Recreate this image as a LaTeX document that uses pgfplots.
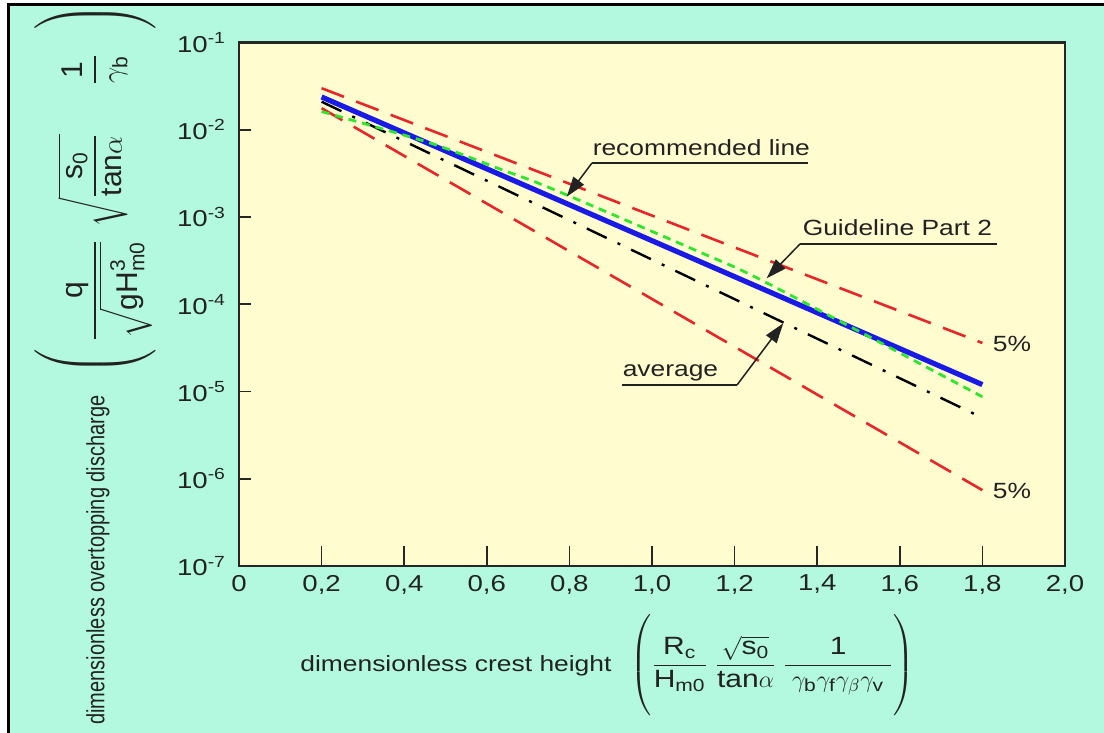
\documentclass[border=0pt]{standalone}
\usepackage{amsmath}
\usepackage{fontspec}
\setmainfont{Liberation Sans}
\newfontfamily\wide{Liberation Sans}[FakeStretch=1.2]
\usepackage{pgfplots}
\pgfplotsset{compat=1.18}
\usetikzlibrary{arrows.meta}
\definecolor{bgaqua}{HTML}{B3F9E0}
\definecolor{plotbg}{HTML}{FFFCD0}
\definecolor{cred}{HTML}{E8262A}
\definecolor{cblue}{HTML}{1A1AE6}
\definecolor{cgreen}{HTML}{2EE62E}
\definecolor{ink}{HTML}{222222}
\newcommand\w[1]{\text{\wide #1}}
\newcommand\n[1]{\text{#1}}
\begin{document}
\begin{tikzpicture}[x=0.5pt,y=0.5pt]
\useasboundingbox (0,0) rectangle (1104,733);
\fill[white] (0,0) rectangle (1104,733);
\fill[bgaqua] (8,0) rectangle (1104,728);
\draw[line width=1.5pt] (8,0) -- (8,728.3) -- (1104,728.3);
\begin{axis}[
  at={(119.5pt,83.5pt)}, anchor=south west,
  scale only axis, width=413pt, height=261.7pt,
  xmin=0, xmax=2, ymode=log, ymin=1e-7, ymax=1e-1,
  axis background/.style={fill=plotbg},
  axis line style={line width=1.2pt, black!85},
  tick align=inside, xtick pos=left, ytick pos=left,
  xtick={0,0.2,0.4,0.6,0.8,1.0,1.2,1.4,1.6,1.8,2.0},
  xticklabels={0,{0,2},{0,4},{0,6},{0,8},{1,0},{1,2},{1,4},{1,6},{1,8},{2,0}},
  ytick={1e-7,1e-6,1e-5,1e-4,1e-3,1e-2,1e-1},
  yticklabels={10\textsuperscript{-7},10\textsuperscript{-6},10\textsuperscript{-5},10\textsuperscript{-4},10\textsuperscript{-3},10\textsuperscript{-2},10\textsuperscript{-1}},
  yminorticks=false, minor tick num=0,
  x tick style={black!85, line width=0.8pt, /pgfplots/major tick length=10pt},
  y tick style={black!85, line width=0.8pt, /pgfplots/major tick length=6pt},
  ticklabel style={font=\wide\fontsize{11.5}{13}\selectfont, text=ink},
  yticklabel style={xshift=-3pt},
  xticklabel style={yshift=-1pt},
  clip=false,
]
\addplot[cred, line width=1.3pt, dash pattern=on 12pt off 6.5pt] coordinates {(0.2,0.0300) (1.0,1.04e-3) (1.8,3.6e-5)};
\addplot[cred, line width=1.3pt, dash pattern=on 12pt off 6.5pt] coordinates {(0.2,0.0177) (1.0,1.15e-4) (1.8,7.4e-7)};
\addplot[black, line width=1.2pt, dash pattern=on 11pt off 6pt on 1.5pt off 6pt] coordinates {(0.2,0.0210) (1.0,3.25e-4) (1.8,5.0e-6)};
\addplot[cblue, line width=2.6pt] coordinates {(0.2,0.0238) (1.0,5.36e-4) (1.8,1.2e-5)};
\addplot[cgreen, line width=1.4pt, dash pattern=on 4pt off 3pt, smooth] coordinates {(0.2,0.0162) (0.462,0.00708) (0.632,0.00355) (0.755,0.00214) (1.115,3.98e-4) (1.28,1.74e-4) (1.8,8.7e-6)};
\end{axis}
% annotations
\begin{scope}[line width=0.75pt, ink, font=\wide\fontsize{11}{13}\selectfont]
\node[anchor=base west, inner sep=0pt] at (592,577) {recommended line};
\draw (808,570) -- (592,570);
\draw[-{Triangle[length=10pt,width=6.5pt]}] (592,570) -- (566.7,536.3);
\node[anchor=base west, inner sep=0pt] at (802,497) {Guideline Part 2};
\draw (997,489) -- (800,489);
\draw[-{Triangle[length=10pt,width=6.5pt]}] (800,489) -- (766.7,454.7);
\node[anchor=base west, inner sep=0pt] at (622,356) {average};
\draw (622,348) -- (737,348);
\draw[-{Triangle[length=10pt,width=6.5pt]}] (737,348) -- (783.3,409.7);
\node at (1012,389) {5\%};
\node at (1012,242) {5\%};
\end{scope}
% x label
\node[anchor=base west, inner sep=0pt, text=ink, font=\fontsize{11}{13}\selectfont] at (300,61)
 {\wide dimensionless crest height};
\node[anchor=west, inner sep=0pt, text=ink, font=\fontsize{12.5}{14}\selectfont] at (630,68)
 {$\left(\rule[-22pt]{0pt}{50pt}\dfrac{\w{R}_{\w{c}}}{\w{H}_{\w{m0}}}\;\dfrac{\sqrt{\w{s}_{\w{0}}}}{\w{tan}\alpha}\;\dfrac{\w{1}}{\;\gamma_{\w{b}}\gamma_{\w{f}}\gamma_{\beta}\gamma_{\w{v}}\;}\right)$};
% y label
\node[rotate=90, yscale=1.25, anchor=west, inner sep=0pt, text=ink, font=\fontsize{10}{12}\selectfont] at (98,8)
 {dimensionless overtopping discharge};
\node[rotate=90, anchor=west, inner sep=0pt, text=ink, font=\fontsize{15}{17}\selectfont] at (95,358)
 {$\left(\rule[-19pt]{0pt}{43pt}\;\dfrac{\n{q}}{\sqrt{\n{gH}^{\n{3}}_{\n{m0}}}}\hspace{6pt}\sqrt{\dfrac{\n{s}_{\n{0}}}{\n{tan}\alpha}}\hspace{24pt}\dfrac{\n{1}}{\gamma_{\n{b}}}\hspace{12pt}\right)$};
\end{tikzpicture}
\end{document}
